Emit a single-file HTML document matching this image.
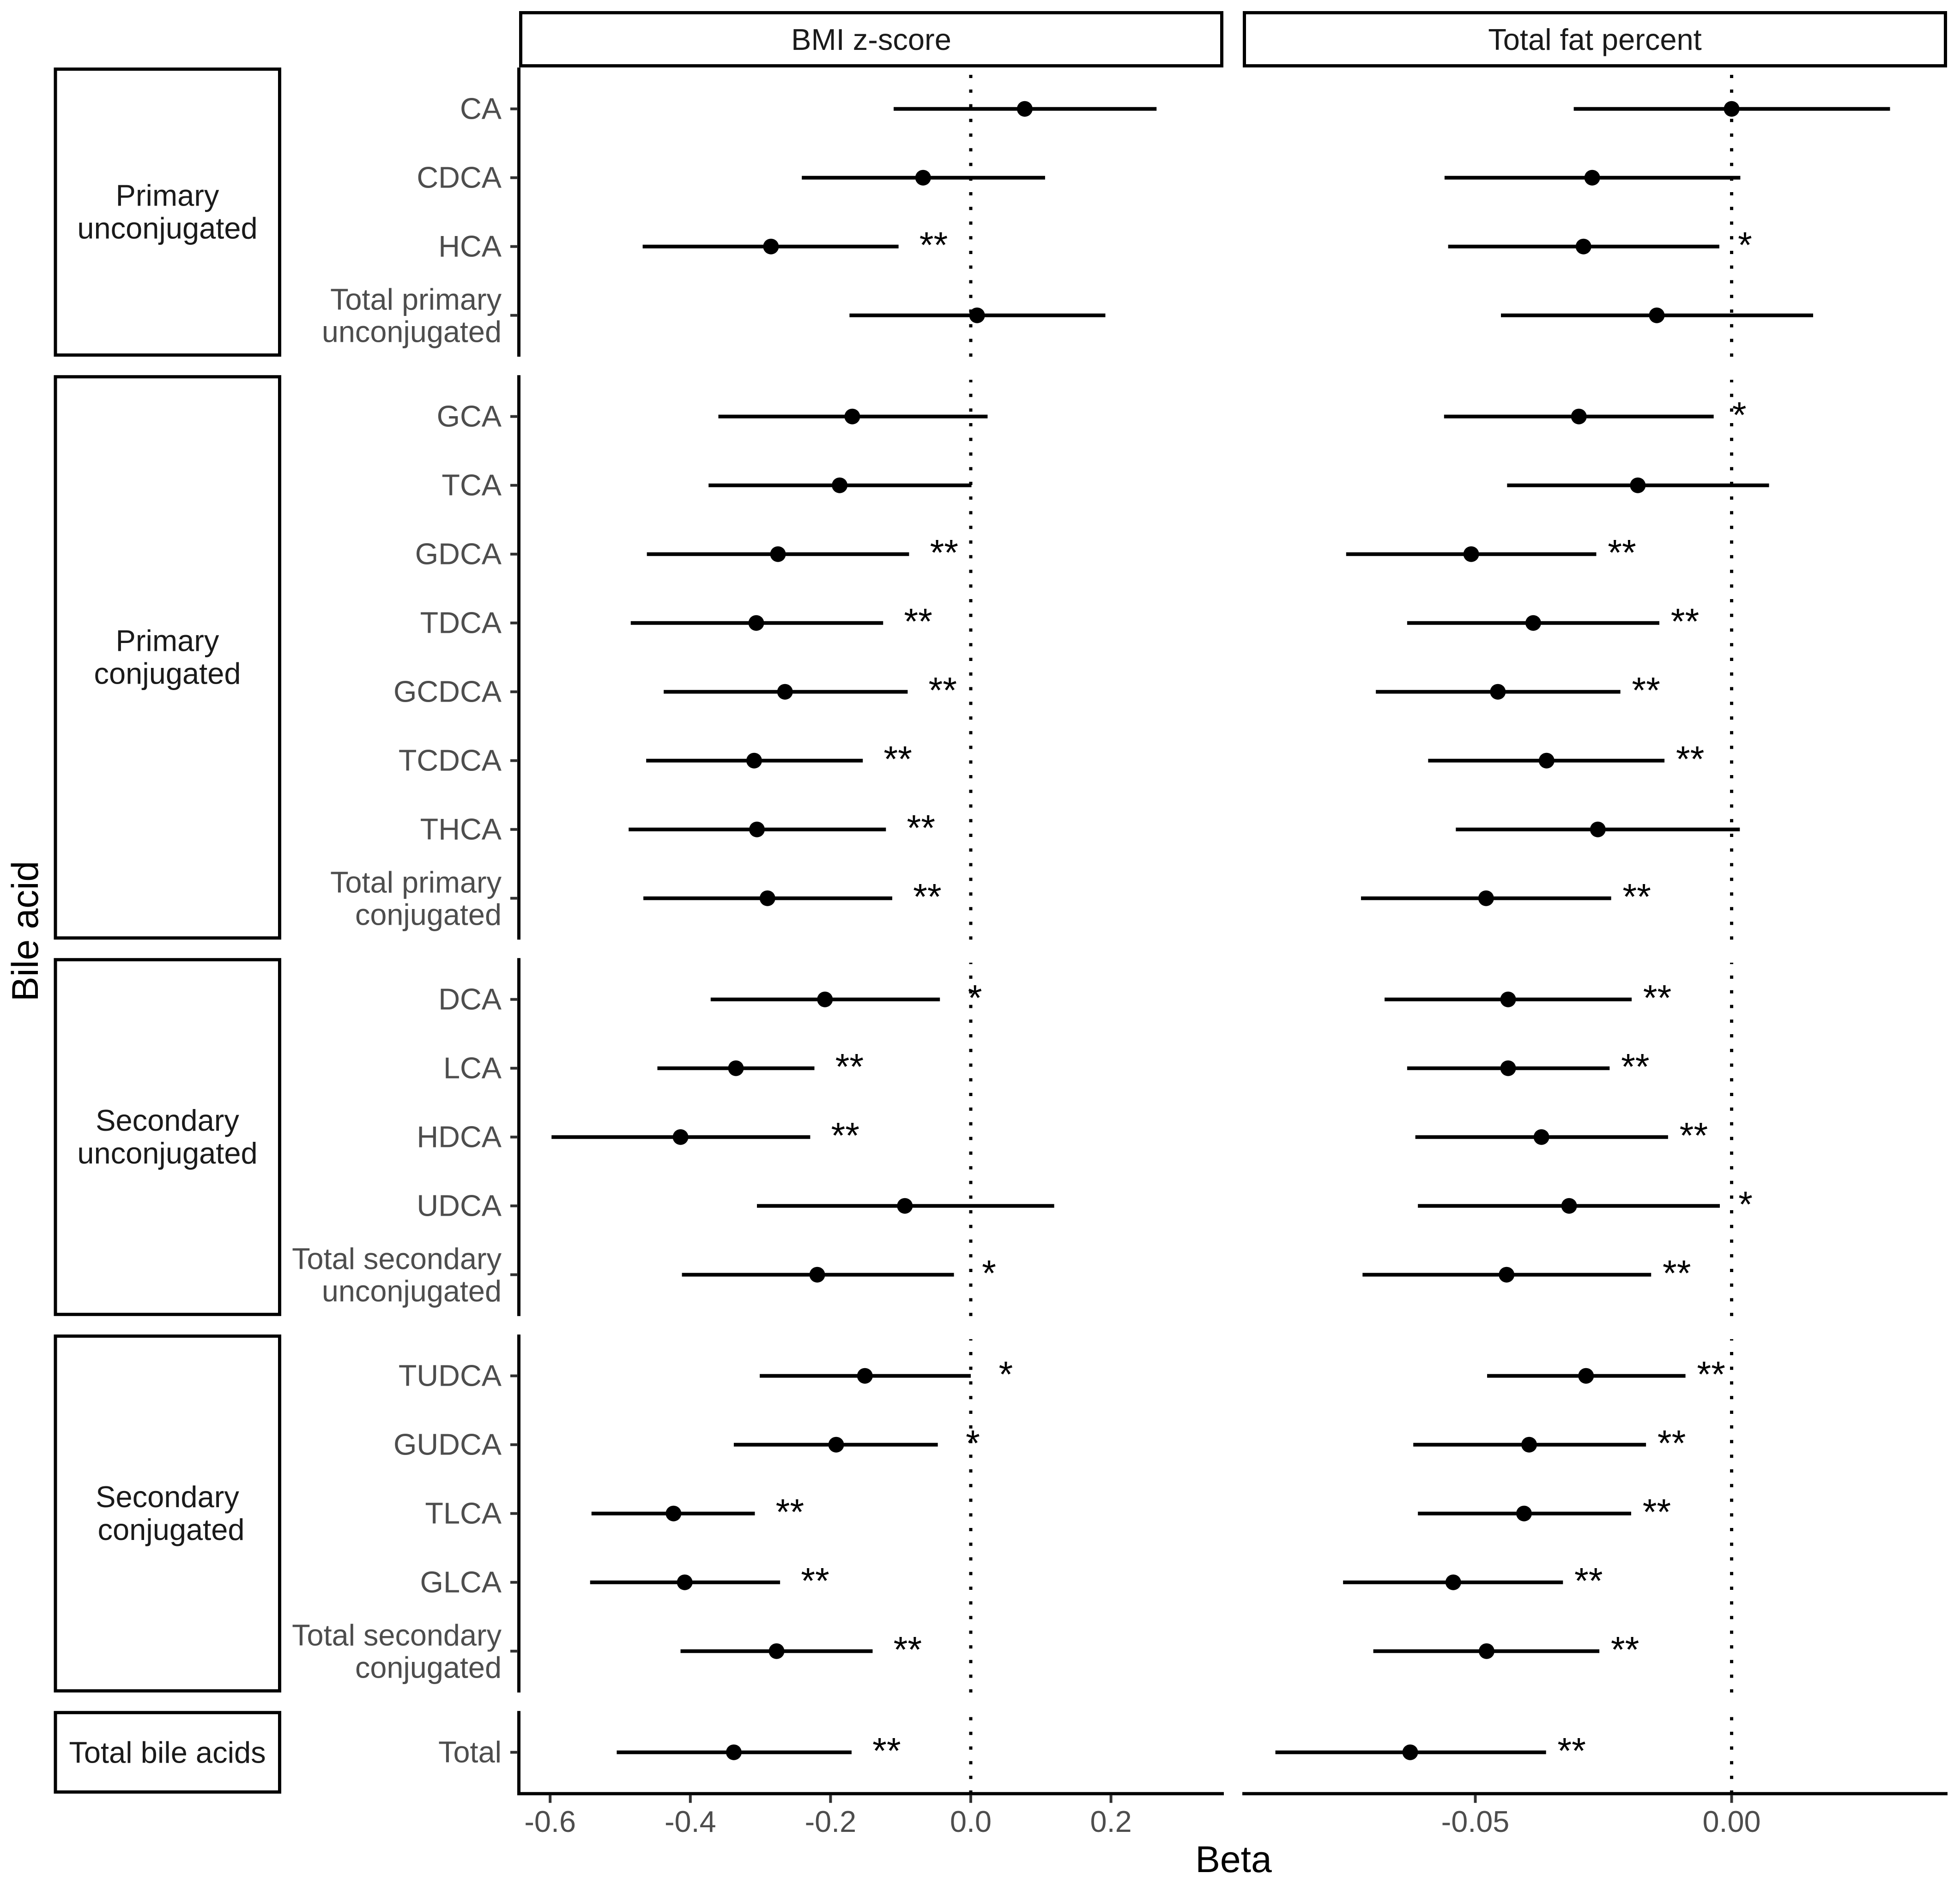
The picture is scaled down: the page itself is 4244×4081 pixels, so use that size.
<!DOCTYPE html>
<html lang="en">
<head>
<meta charset="utf-8">
<title>Bile acid associations forest plot</title>
<style>
html,body{margin:0;padding:0;background:#fff;}
svg{display:block;font-family:"Liberation Sans",Arial,sans-serif;}
</style>
</head>
<body>
<svg id="chart" xmlns="http://www.w3.org/2000/svg" width="4244" height="4081" viewBox="0 0 4244 4081">
<rect x="0" y="0" width="4244" height="4081" fill="#ffffff"/>
<text transform="translate(82 2016) rotate(-90)" text-anchor="middle" font-size="80.5" fill="#000">Bile acid</text>
<text x="2671" y="4053" text-anchor="middle" font-size="80.5" fill="#000">Beta</text>
</svg>
<script>
var groupLabels = ["Primary\nunconjugated", "Primary\nconjugated", "Secondary\nunconjugated", "Secondary\nconjugated", "Total bile acids"];
var groupSizes = [4, 8, 5, 5, 1];
var categories = ["CA", "CDCA", "HCA", "Total primary\nunconjugated",
  "GCA", "TCA", "GDCA", "TDCA", "GCDCA", "TCDCA", "THCA", "Total primary\nconjugated",
  "DCA", "LCA", "HDCA", "UDCA", "Total secondary\nunconjugated",
  "TUDCA", "GUDCA", "TLCA", "GLCA", "Total secondary\nconjugated",
  "Total"];
var panelTitles = ["BMI z-score", "Total fat percent"];

var bmiLow = [-0.110, -0.241, -0.468, -0.173,
  -0.360, -0.374, -0.462, -0.485, -0.438, -0.463, -0.488, -0.467,
  -0.371, -0.447, -0.598, -0.305, -0.412,
  -0.301, -0.338, -0.541, -0.543, -0.414,
  -0.505];
var bmiEst = [0.077, -0.068, -0.285, 0.009,
  -0.169, -0.187, -0.275, -0.306, -0.265, -0.309, -0.305, -0.290,
  -0.208, -0.335, -0.414, -0.094, -0.219,
  -0.151, -0.192, -0.424, -0.408, -0.277,
  -0.338];
var bmiHigh = [0.265, 0.106, -0.103, 0.192,
  0.024, 0.001, -0.088, -0.125, -0.090, -0.154, -0.121, -0.112,
  -0.044, -0.223, -0.229, 0.119, -0.024,
  0.000, -0.047, -0.308, -0.272, -0.140,
  -0.170];
var bmiSig = ["", "", "**", "",
  "", "", "**", "**", "**", "**", "**", "**",
  "*", "**", "**", "", "*",
  "*", "*", "**", "**", "**",
  "**"];

var fatLow = [-0.0308, -0.0560, -0.0553, -0.0450,
  -0.0561, -0.0438, -0.0752, -0.0633, -0.0694, -0.0592, -0.0538, -0.0723,
  -0.0677, -0.0633, -0.0617, -0.0612, -0.0720,
  -0.0477, -0.0621, -0.0612, -0.0758, -0.0699,
  -0.0890];
var fatEst = [0.0000, -0.0272, -0.0289, -0.0146,
  -0.0298, -0.0183, -0.0508, -0.0387, -0.0456, -0.0361, -0.0261, -0.0479,
  -0.0436, -0.0436, -0.0371, -0.0317, -0.0439,
  -0.0284, -0.0395, -0.0405, -0.0543, -0.0478,
  -0.0627];
var fatHigh = [0.0309, 0.0017, -0.0024, 0.0159,
  -0.0035, 0.0073, -0.0264, -0.0141, -0.0217, -0.0131, 0.0016, -0.0235,
  -0.0195, -0.0238, -0.0124, -0.0023, -0.0157,
  -0.0090, -0.0167, -0.0196, -0.0329, -0.0258,
  -0.0362];
var fatSig = ["", "", "*", "",
  "*", "", "**", "**", "**", "**", "", "**",
  "**", "**", "**", "*", "**",
  "**", "**", "**", "**", "**",
  "**"];

var bmiTicks = [-0.6, -0.4, -0.2, 0.0, 0.2];
var bmiTickLabels = ["-0.6", "-0.4", "-0.2", "0.0", "0.2"];
var fatTicks = [-0.05, 0.00];
var fatTickLabels = ["-0.05", "0.00"];

var svg = document.getElementById("chart");
var NS = "http://www.w3.org/2000/svg";

function make(tag, attrs, parent) {
  var e = document.createElementNS(NS, tag);
  for (var k in attrs) { e.setAttribute(k, attrs[k]); }
  (parent || svg).appendChild(e);
  return e;
}

function xBmi(v) { return 2102 + 1518 * v; }
function xFat(v) { return 3749.5 + 11100 * v; }

var ROW0 = 235.7, ROW_STEP = 149, GROUP_STEP = 219, PAD = 89.5;
var rowGroup = [];
groupSizes.forEach(function (n, g) { for (var i = 0; i < n; i++) { rowGroup.push(g); } });

function yRow(i) {
  var y = ROW0;
  for (var k = 1; k <= i; k++) { y += rowGroup[k] !== rowGroup[k - 1] ? GROUP_STEP : ROW_STEP; }
  return y;
}

var panelTop = [], panelBottom = [];
(function () {
  var start = 0;
  groupSizes.forEach(function (n) {
    panelTop.push(yRow(start) - PAD);
    panelBottom.push(yRow(start + n - 1) + PAD);
    start += n;
  });
})();
var axisBottom = panelBottom[panelBottom.length - 1];

function drawMultiline(lines, x, y0, step, attrs, name, lastLineShift) {
  var t = make("text", attrs);
  
  
  lines.forEach(function (line, i) {
    var shift = (i === lines.length - 1 && lastLineShift) ? lastLineShift : 0;
    var s = make("tspan", { x: x + shift, y: y0 + i * step }, t);
    s.textContent = line;
  });
  return t;
}

/* top facet strips */
var stripX = [[1127.5, 2645.5], [2694.5, 4212.5]];
panelTitles.forEach(function (title, i) {
  var r = make("rect", { x: stripX[i][0], y: 27.5, width: stripX[i][1] - stripX[i][0], height: 115, fill: "#fff", stroke: "#000", "stroke-width": 7 });
  
  
  var t = make("text", { x: (stripX[i][0] + stripX[i][1]) / 2, y: 108, "text-anchor": "middle", "font-size": 65, fill: "#1a1a1a" });
  
  
  t.textContent = title;
});

/* left group strips and y axis segments */
groupLabels.forEach(function (label, g) {
  var top = panelTop[g], bottom = panelBottom[g];
  var r = make("rect", { x: 120, y: top + 3.5, width: 485.5, height: bottom - top - 7, fill: "#fff", stroke: "#000", "stroke-width": 7 });
  
  
  var mid = (top + bottom) / 2;
  var lines = label.split("\n");
  var y0 = lines.length === 1 ? mid + 23 : mid - 13.5;
  drawMultiline(lines, 362.5, y0, 71, { "text-anchor": "middle", "font-size": 65, fill: "#1a1a1a" }, 'group-strip-label', g === 3 ? 8 : 0);
  var ax = make("line", { x1: 1123.5, x2: 1123.5, y1: top, y2: bottom, stroke: "#000", "stroke-width": 7 });
  
  
  [xBmi, xFat].forEach(function (xs) {
    var zero = make("line", { x1: xs(0), x2: xs(0), y1: bottom, y2: top + 10, stroke: "#000", "stroke-width": 7, "stroke-dasharray": "7 24.75" });
    
    
  });
});

/* y tick labels and ticks */
categories.forEach(function (cat, i) {
  var y = yRow(i);
  var tick = make("line", { x1: 1105, x2: 1121, y1: y, y2: y, stroke: "#333333", "stroke-width": 6 });
  
  
  var lines = cat.split("\n");
  var y0 = lines.length === 1 ? y + 22 : y - 12;
  drawMultiline(lines, 1086, y0, 70, { "text-anchor": "end", "font-size": 64.8, fill: "#4d4d4d" }, 'y-tick-label', 0);
});

/* x axes */
function drawXAxis(x1, x2, ticks, labels, scale) {
  var ax = make("line", { x1: x1, x2: x2, y1: axisBottom, y2: axisBottom, stroke: "#000", "stroke-width": 7 });
  
  
  ticks.forEach(function (v, i) {
    var px = scale(v);
    var t = make("line", { x1: px, x2: px, y1: axisBottom + 3, y2: axisBottom + 20, stroke: "#333333", "stroke-width": 6 });
    
    
    var l = make("text", { x: px, y: 3966, "text-anchor": "middle", "font-size": 64.8, fill: "#4d4d4d" });
    
    
    l.textContent = labels[i];
  });
}
drawXAxis(1120, 2650, bmiTicks, bmiTickLabels, xBmi);
drawXAxis(2690, 4217, fatTicks, fatTickLabels, xFat);

/* series */
function drawSeries(low, est, high, sig, scale, starOffset) {
  est.forEach(function (v, i) {
    var y = yRow(i);
    var ci = make("line", { x1: scale(low[i]), x2: scale(high[i]), y1: y, y2: y, stroke: "#000", "stroke-width": 8 });
    
    
    var pt = make("circle", { cx: scale(v), cy: y, r: 17, fill: "#000" });
    
    
    if (sig[i]) {
      var s = make("text", { x: scale(high[i] + starOffset), y: y + 24, "text-anchor": "middle", "font-size": 79, fill: "#000" });
      
      
      s.textContent = sig[i];
    }
  });
}
drawSeries(bmiLow, bmiEst, bmiHigh, bmiSig, xBmi, 0.05);
drawSeries(fatLow, fatEst, fatHigh, fatSig, xFat, 0.005);
</script>
</body>
</html>
